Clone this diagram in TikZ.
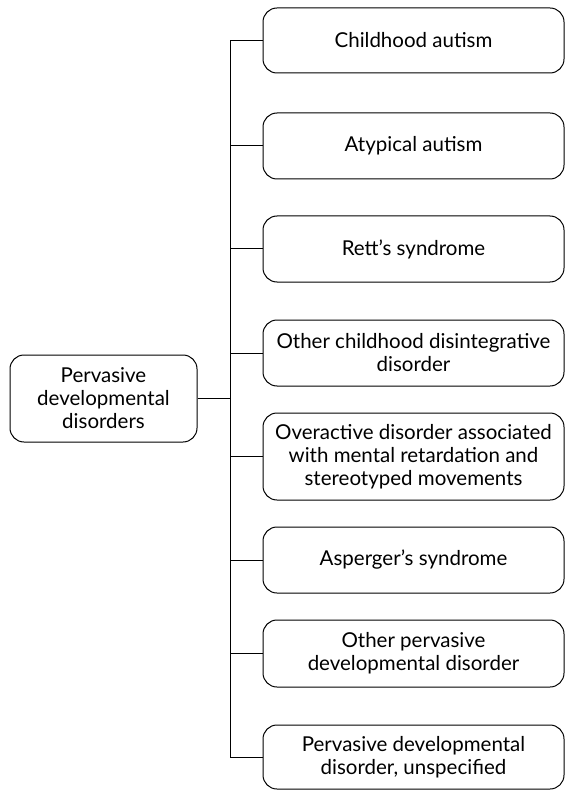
\documentclass[tikz,border=0pt]{standalone}
\usepackage{fontspec}
\setmainfont{Lato}
\begin{document}
\begin{tikzpicture}[x=1pt,y=-1pt,
  box/.style={draw, line width=1pt, rounded corners=14pt, align=center, inner sep=0pt,
    font=\fontsize{20.5}{23}\selectfont},
  rbox/.style={box, minimum width=301pt},
  conn/.style={line width=1pt}]
\useasboundingbox (0,0) rectangle (565,791);
\node[box, minimum width=187pt, minimum height=87pt] (root) at (103.5,398.5) {Pervasive\\developmental\\disorders};
\node[rbox, minimum height=65pt] (b1) at (413.5,40.5) {Childhood autism};
\node[rbox, minimum height=66pt] (b2) at (413.5,146) {Atypical autism};
\node[rbox, minimum height=66pt] (b3) at (413.5,249) {Rett's syndrome};
\node[rbox, minimum height=66pt] (b4) at (413.5,353) {Other childhood disintegrative\\disorder};
\node[rbox, minimum height=87pt] (b5) at (413.5,456.5) {Overactive disorder associated\\with mental retardation and\\stereotyped movements};
\node[rbox, minimum height=66pt] (b6) at (413.5,560) {Asperger's syndrome};
\node[rbox, minimum height=67pt] (b7) at (413.5,653.5) {Other pervasive\\developmental disorder};
\node[rbox, minimum height=64pt] (b8) at (413.5,757) {Pervasive developmental\\disorder, unspecified};
\coordinate (t1) at (230,40.5);
\coordinate (t8) at (230,757);
\draw[conn] (b1.west) -- (t1) -- (t8) -- (b8.west);
\foreach \b in {b2,b3,b4,b5,b6,b7}{
  \draw[conn] (\b.west) -- (\b.west -| t1);
}
\draw[conn] (root.east) -- (root.east -| t1);
\end{tikzpicture}
\end{document}
